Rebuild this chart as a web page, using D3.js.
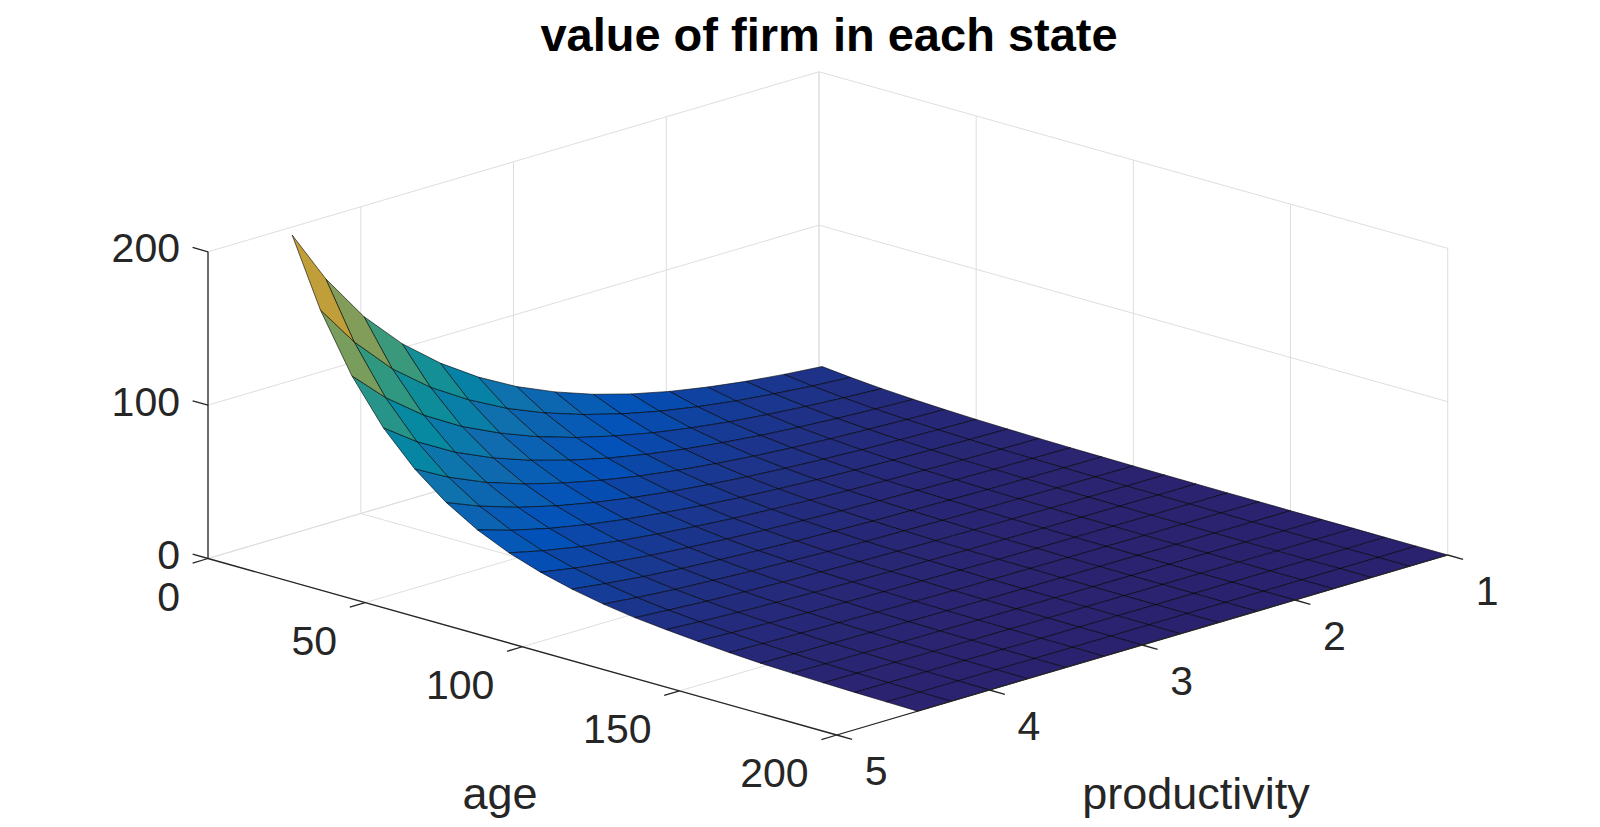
<!DOCTYPE html>
<html>
<head>
<meta charset="utf-8">
<script src="https://cdn.jsdelivr.net/npm/d3@7"></script>
<style>
  body { margin: 0; background: #fff; }
  svg { display: block; font-family: "Liberation Sans", Arial, Helvetica, sans-serif; }
</style>
</head>
<body>
<svg id="chart" width="1600" height="827"></svg>
<script>
// grid the surface was read on (rows = age, columns = productivity)
const ages = [1, 10, 20, 30, 40, 50, 60, 70, 80, 90, 100, 110, 120, 130, 140, 150, 160, 170, 180, 190, 200];
const prods = [1, 1.25, 1.5, 1.75, 2, 2.25, 2.5, 2.75, 3, 3.25, 3.5, 3.75, 4, 4.25, 4.47];

// value of the firm
const firmValue = [
  [8.4, 10.6, 13.4, 17.0, 21.5, 27.2, 34.3, 43.2, 54.0, 67.5, 84.0, 104.0, 129.0, 161.0, 196.0],
  [6.5, 8.2, 10.4, 13.2, 16.7, 21.1, 26.7, 33.6, 42.0, 52.4, 65.3, 80.8, 100.2, 125.1, 152.3],
  [4.9, 6.2, 7.9, 10.0, 12.6, 16.0, 20.1, 25.4, 31.7, 39.6, 49.3, 61.0, 75.7, 94.5, 115.1],
  [3.7, 4.7, 5.9, 7.5, 9.5, 12.1, 15.2, 19.2, 24.0, 30.0, 37.3, 46.2, 57.3, 71.5, 87.0],
  [2.8, 3.6, 4.5, 5.7, 7.2, 9.1, 11.5, 14.5, 18.1, 22.7, 28.2, 34.9, 43.3, 54.1, 65.9],
  [2.1, 2.7, 3.4, 4.3, 5.5, 6.9, 8.7, 11.0, 13.7, 17.1, 21.3, 26.4, 32.8, 40.9, 49.8],
  [1.6, 2.0, 2.6, 3.3, 4.1, 5.2, 6.6, 8.3, 10.4, 13.0, 16.1, 20.0, 24.8, 30.9, 37.6],
  [1.2, 1.5, 1.9, 2.5, 3.1, 3.9, 5.0, 6.3, 7.8, 9.8, 12.2, 15.1, 18.7, 23.3, 28.4],
  [0.9, 1.2, 1.5, 1.9, 2.4, 3.0, 3.8, 4.8, 5.9, 7.4, 9.2, 11.4, 14.2, 17.7, 21.6],
  [0.7, 0.9, 1.1, 1.4, 1.8, 2.3, 2.8, 3.6, 4.5, 5.6, 7.0, 8.6, 10.7, 13.4, 16.3],
  [0.5, 0.7, 0.8, 1.1, 1.4, 1.7, 2.2, 2.7, 3.4, 4.3, 5.3, 6.6, 8.1, 10.1, 12.3],
  [0.4, 0.5, 0.6, 0.8, 1.0, 1.3, 1.6, 2.0, 2.5, 3.2, 3.9, 4.9, 6.1, 7.6, 9.2],
  [0.3, 0.4, 0.5, 0.6, 0.8, 1.0, 1.2, 1.6, 1.9, 2.4, 3.0, 3.7, 4.6, 5.8, 7.1],
  [0.2, 0.3, 0.4, 0.5, 0.6, 0.7, 0.9, 1.2, 1.5, 1.8, 2.3, 2.8, 3.5, 4.3, 5.3],
  [0.2, 0.2, 0.3, 0.3, 0.4, 0.5, 0.7, 0.8, 1.0, 1.3, 1.6, 2.0, 2.5, 3.1, 3.7],
  [0.1, 0.1, 0.2, 0.2, 0.3, 0.4, 0.4, 0.6, 0.7, 0.9, 1.1, 1.4, 1.7, 2.1, 2.5],
  [0.1, 0.1, 0.1, 0.2, 0.2, 0.2, 0.3, 0.4, 0.5, 0.6, 0.8, 0.9, 1.2, 1.4, 1.8],
  [0.1, 0.1, 0.1, 0.1, 0.1, 0.2, 0.2, 0.3, 0.3, 0.4, 0.5, 0.6, 0.8, 1.0, 1.2],
  [0.0, 0.0, 0.0, 0.1, 0.1, 0.1, 0.1, 0.2, 0.2, 0.2, 0.3, 0.4, 0.5, 0.6, 0.7],
  [0.0, 0.0, 0.0, 0.0, 0.0, 0.0, 0.1, 0.1, 0.1, 0.1, 0.1, 0.2, 0.2, 0.2, 0.3],
  [0.0, 0.0, 0.0, 0.0, 0.0, 0.0, 0.0, 0.0, 0.0, 0.0, 0.0, 0.0, 0.0, 0.0, 0.0]
];

const ageTicks = [0, 50, 100, 150, 200];
const prodTicks = [1, 2, 3, 4, 5];
const valueTicks = [0, 100, 200];

// parula-like colormap
const parulaStops = [0, 8, 16, 24, 32, 40, 48, 56, 63].map(d => d / 63);
const parulaColors = ['#352a87', '#0363e1', '#1485d4', '#06a7c6', '#38b99e', '#92bf73', '#d9ba56', '#fec832', '#f9fb0e'];

const svg = d3.select('#chart');

// projected box: corner at age 0 / prod 5 / value 0 and the two floor edges
const origin = [208, 558.5];
const ageVec = [628.7, 176.5];
const prodVec = [611, -180];

const ageScale = d3.scaleLinear().domain([0, 200]).range([0, 1]);
const prodScale = d3.scaleLinear().domain([5, 1]).range([0, 1]);
const valueScale = d3.scaleLinear().domain([0, 200]).range([0, 306.7]);

function floorPt(a, p) {
    const s = ageScale(a), t = prodScale(p);
    return [origin[0] + s * ageVec[0] + t * prodVec[0], origin[1] + s * ageVec[1] + t * prodVec[1]];
}

function project(a, p, v) {
    const f = floorPt(a, p);
    return [f[0], f[1] - valueScale(v)];
}

const allValues = firmValue.flat();
const vMin = d3.min(allValues), vMax = d3.max(allValues);
const colorScale = d3.scaleLinear()
    .domain(parulaStops.map(t => vMin + t * (vMax - vMin)))
    .range(parulaColors)
    .interpolate(d3.interpolateRgb);

const gridColor = '#dedede';
const axisColor = '#262626';

// grid lines on the floor and the two back walls
let grid = svg.append('g').attr('stroke', gridColor).attr('stroke-width', 1).attr('fill', 'none');
function seg(g, p1, p2) {
    g.append('line')
        .attr('x1', p1[0]).attr('y1', p1[1])
        .attr('x2', p2[0]).attr('y2', p2[1]);
}
ageTicks.forEach(a => {
    seg(grid, project(a, 5, 0), project(a, 1, 0));
    seg(grid, project(a, 1, 0), project(a, 1, 200));
});
prodTicks.forEach(p => {
    seg(grid, project(0, p, 0), project(200, p, 0));
    seg(grid, project(0, p, 0), project(0, p, 200));
});
valueTicks.forEach(v => {
    seg(grid, project(0, 5, v), project(0, 1, v));
    seg(grid, project(0, 1, v), project(200, 1, v));
});

// surface cells, drawn back to front
let faces = [];
for (let i = 0; i < ages.length - 1; i++) {
    for (let j = 0; j < prods.length - 1; j++) {
        const idx = [[i, j], [i + 1, j], [i + 1, j + 1], [i, j + 1]];
        const pts = idx.map(([r, c]) => project(ages[r], prods[c], firmValue[r][c]));
        const ca = (ages[i] + ages[i + 1]) / 2;
        const cp = (prods[j] + prods[j + 1]) / 2;
        const cv = d3.mean(idx, ([r, c]) => firmValue[r][c]);
        const depth = 1.732 * floorPt(ca, cp)[1] + 0.885 * valueScale(cv);
        faces.push({ pts: pts, value: firmValue[i][j], depth: depth });
    }
}
faces.sort((a, b) => a.depth - b.depth);

svg.append('g')
    .selectAll('path')
    .data(faces)
    .enter()
    .append('path')
    .attr('d', d => 'M' + d.pts.map(p => p[0].toFixed(2) + ',' + p[1].toFixed(2)).join('L') + 'Z')
    .attr('fill', d => d3.interpolateRgb(colorScale(d.value), '#000')(0.18))
    .attr('stroke', '#000')
    .attr('stroke-opacity', 0.85)
    .attr('stroke-width', 0.7)
    .attr('stroke-linejoin', 'round');

// axes
let axes = svg.append('g').attr('stroke', axisColor).attr('stroke-width', 1.3).attr('fill', 'none');
seg(axes, project(0, 5, 0), project(0, 5, 200));
seg(axes, project(0, 5, 0), project(200, 5, 0));
seg(axes, project(200, 5, 0), project(200, 1, 0));

const tickLen = 16;
const ageUnit = [ageVec[0] / Math.hypot(...ageVec), ageVec[1] / Math.hypot(...ageVec)];
const prodUnit = [prodVec[0] / Math.hypot(...prodVec), prodVec[1] / Math.hypot(...prodVec)];

let labels = svg.append('g').attr('fill', axisColor).attr('font-size', 41);

valueTicks.forEach(v => {
    const p = project(0, 5, v);
    seg(axes, p, [p[0] - tickLen * ageUnit[0], p[1] - tickLen * ageUnit[1]]);
    labels.append('text')
        .attr('x', p[0] - 28).attr('y', p[1] - 4)
        .attr('dy', '0.35em').attr('text-anchor', 'end')
        .text(v);
});

ageTicks.forEach(a => {
    const p = project(a, 5, 0);
    seg(axes, p, [p[0] - tickLen * prodUnit[0], p[1] - tickLen * prodUnit[1]]);
    labels.append('text')
        .attr('x', p[0] - 28).attr('y', p[1] + 38)
        .attr('dy', '0.35em').attr('text-anchor', 'end')
        .text(a);
});

prodTicks.forEach(q => {
    const p = project(200, q, 0);
    seg(axes, p, [p[0] + tickLen * ageUnit[0], p[1] + tickLen * ageUnit[1]]);
    labels.append('text')
        .attr('x', p[0] + 28).attr('y', p[1] + 36)
        .attr('dy', '0.35em').attr('text-anchor', 'start')
        .text(q);
});

svg.append('text')
    .attr('x', 500).attr('y', 809)
    .attr('text-anchor', 'middle')
    .attr('font-size', 45).attr('fill', axisColor)
    .text('age');

svg.append('text')
    .attr('x', 1196).attr('y', 809)
    .attr('text-anchor', 'middle')
    .attr('font-size', 45).attr('fill', axisColor)
    .text('productivity');

svg.append('text')
    .attr('x', 829).attr('y', 51)
    .attr('text-anchor', 'middle')
    .attr('font-size', 47).attr('font-weight', 'bold').attr('fill', '#000')
    .text('value of firm in each state');
</script>
</body>
</html>
